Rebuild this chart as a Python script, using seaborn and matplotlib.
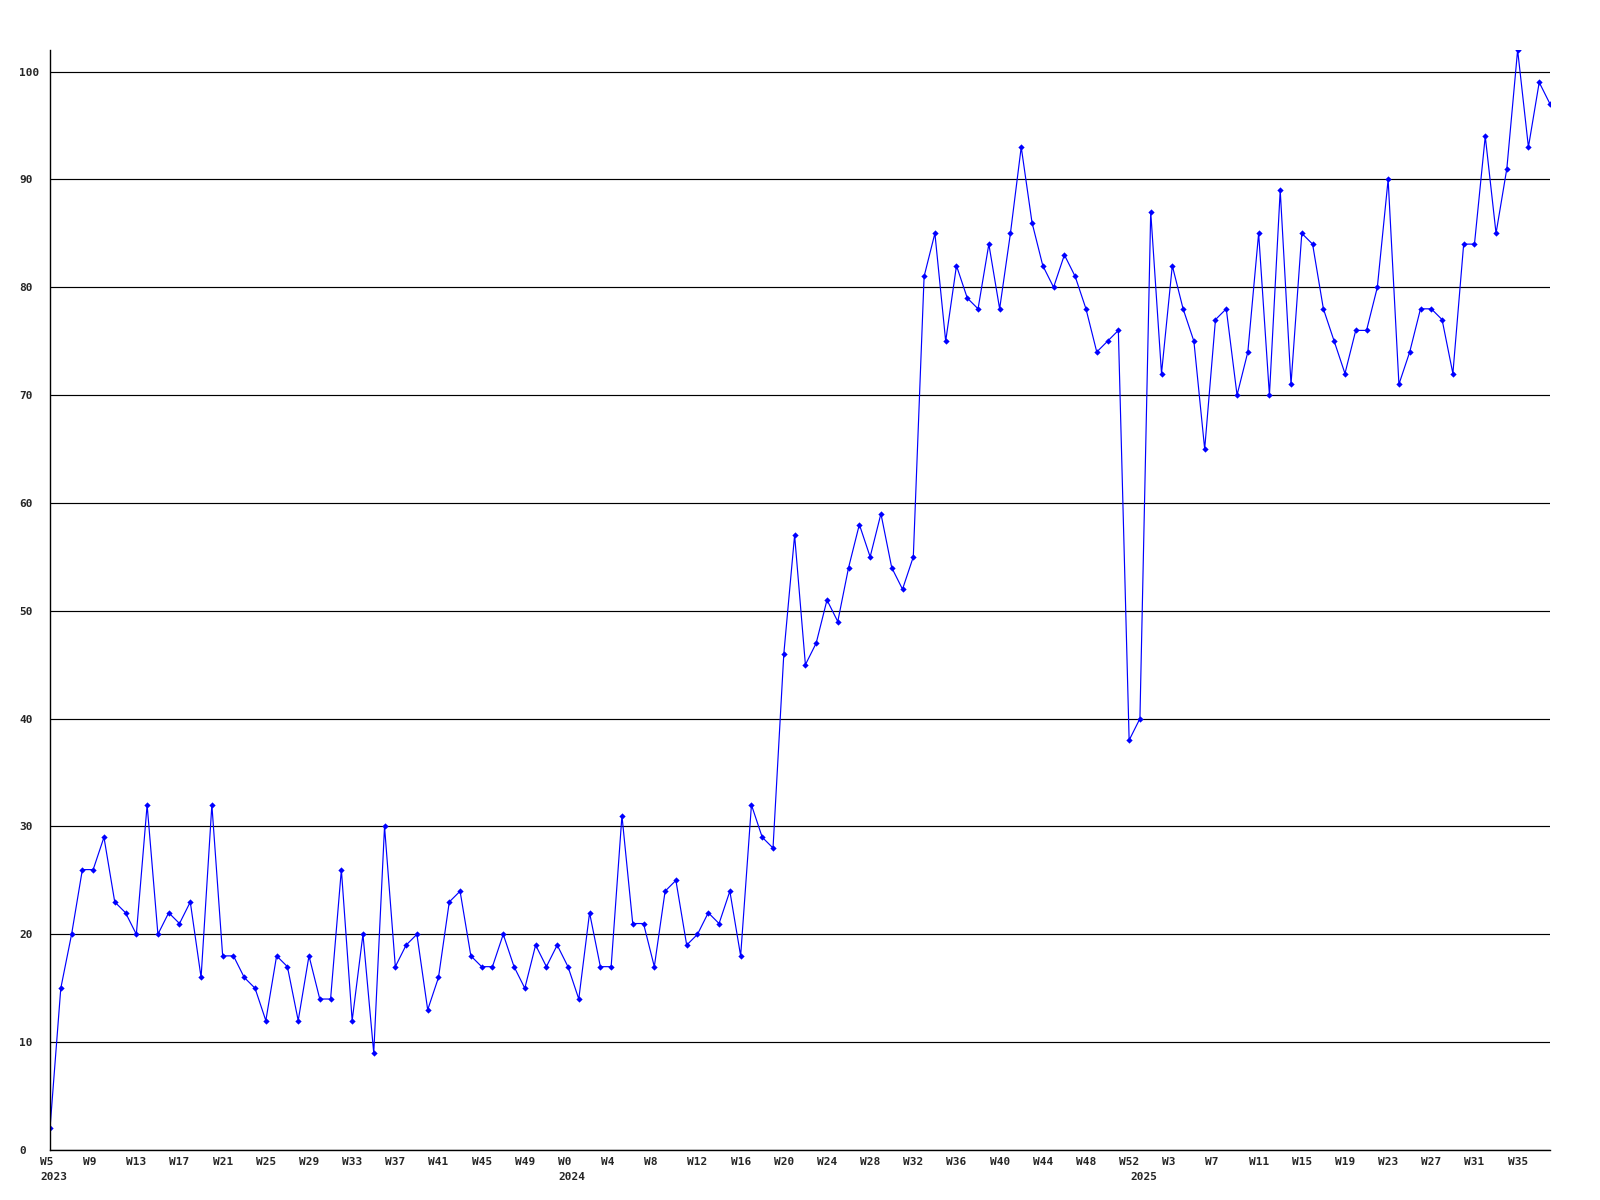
import matplotlib
matplotlib.use("Agg")
import matplotlib.pyplot as plt
import matplotlib.transforms as mtransforms
import seaborn as sns
import pandas as pd

# Weekly values (week numbers as shown on the axis, %W style)
weeks_2023 = list(range(5, 53))
values_2023 = [2, 15, 20, 26, 26, 29, 23, 22, 20, 32, 20, 22, 21, 23, 16, 32,
               18, 18, 16, 15, 12, 18, 17, 12, 18, 14, 14, 26, 12, 20, 9, 30,
               17, 19, 20, 13, 16, 23, 24, 18, 17, 17, 20, 17, 15, 19, 17, 19]
weeks_2024 = list(range(0, 53))
values_2024 = [17, 14, 22, 17, 17, 31, 21, 21, 17, 24, 25, 19, 20, 22, 21, 24,
               18, 32, 29, 28, 46, 57, 45, 47, 51, 49, 54, 58, 55, 59, 54, 52,
               55, 81, 85, 75, 82, 79, 78, 84, 78, 85, 93, 86, 82, 80, 83, 81,
               78, 74, 75, 76, 38]
weeks_2025 = list(range(0, 39))
values_2025 = [40, 87, 72, 82, 78, 75, 65, 77, 78, 70, 74, 85, 70, 89, 71, 85,
               84, 78, 75, 72, 76, 76, 80, 90, 71, 74, 78, 78, 77, 72, 84, 84,
               94, 85, 91, 102, 93, 99, 97]
y_ticks = [0, 10, 20, 30, 40, 50, 60, 70, 80, 90, 100]
year_labels = ["2023", "2024", "2025"]

years = [2023] * len(weeks_2023) + [2024] * len(weeks_2024) + [2025] * len(weeks_2025)
weeks = weeks_2023 + weeks_2024 + weeks_2025
values = values_2023 + values_2024 + values_2025
df = pd.DataFrame({"idx": range(len(values)), "year": years, "week": weeks, "value": values})

sns.set_style("white")
plt.rcParams["font.family"] = ["DejaVu Sans Mono", "DejaVu Sans"]

fig = plt.figure(figsize=(16, 12), dpi=100)
ax = fig.add_axes([50 / 1600, 1 - 1150 / 1200, 1500 / 1600, 1100 / 1200])

sns.lineplot(data=df, x="idx", y="value", ax=ax, color="#0000ff", linewidth=0.85,
             marker="D", markersize=3.2, markeredgewidth=0, markerfacecolor="#0000ff")

ax.set_xlim(0, len(values) - 1)
ax.set_ylim(0, 102)
ax.set_xlabel("")
ax.set_ylabel("")

ax.set_yticks(y_ticks)
ax.set_yticklabels([str(v) for v in y_ticks], fontsize=8, fontweight="bold", ha="left")
ax.tick_params(axis="y", length=0, pad=22)
ax.yaxis.grid(True, color="black", linewidth=0.85)
ax.xaxis.grid(False)
ax.set_axisbelow(True)

tick_idx = list(range(0, len(values), 4))
ax.set_xticks(tick_idx)
ax.set_xticklabels([f"W{weeks[i]}" for i in tick_idx], fontsize=8, fontweight="bold", ha="left")
ax.tick_params(axis="x", length=0, pad=5)
shift = mtransforms.ScaledTranslation(-10 / 100, 0, fig.dpi_scale_trans)
for lab in ax.get_xticklabels():
    lab.set_transform(lab.get_transform() + shift)

# year caption under the first week of each year
for caption in year_labels:
    i = years.index(int(caption))
    ax.annotate(caption, xy=(i, 0), xycoords=("data", "axes fraction"),
                xytext=(-7.2, -15.5), textcoords="offset points",
                ha="left", va="top", fontsize=8, fontweight="bold")

for s in ["top", "right"]:
    ax.spines[s].set_visible(False)
for s in ["left", "bottom"]:
    ax.spines[s].set_color("black")
    ax.spines[s].set_linewidth(1.0)

fig.savefig("out.png", dpi=100, facecolor="white")
